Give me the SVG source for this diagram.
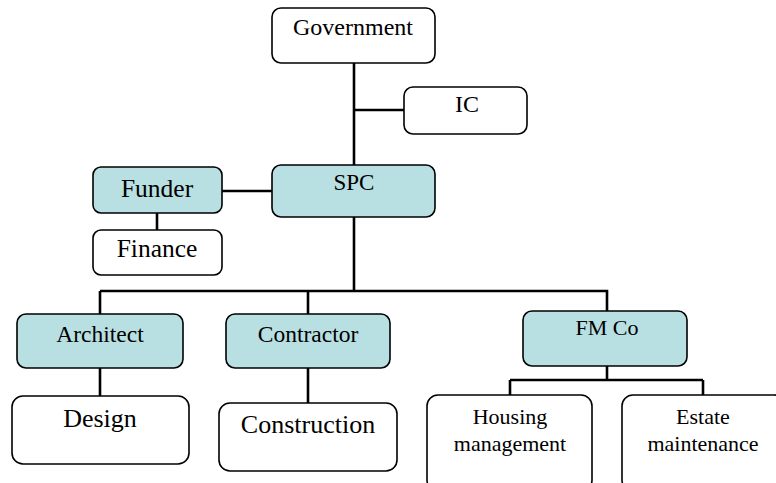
<svg xmlns="http://www.w3.org/2000/svg" width="776" height="483" viewBox="0 0 776 483">
<style>
.box{fill:#ffffff;stroke:#000;stroke-width:1.6}
.tint{fill:#b8dfe2}
.t{font-family:"Liberation Serif","Times New Roman",serif;fill:#000;text-anchor:middle}
.conn{stroke:#000;stroke-width:2.6;fill:none}
</style>
<rect width="776" height="483" fill="#ffffff"/>
<g id="connectors" class="conn">
<path d="M354,63 V165"/>
<path d="M354,110 H404"/>
<path d="M222,191 H272"/>
<path d="M157,213 V230"/>
<path d="M354,217 V291"/>
<path d="M100,291 H607 V311"/>
<path d="M100,291 V314"/>
<path d="M308,291 V314"/>
<path d="M100,368 V396"/>
<path d="M308,368 V403"/>
<path d="M607,366 V380"/>
<path d="M510,380 H703"/>
<path d="M510,380 V395"/>
<path d="M703,380 V395"/>
</g>
<g id="government">
<rect class="box" x="272" y="8" width="163" height="55" rx="9"/>
<text class="t" x="353" y="35" font-size="24">Government</text>
</g>
<g id="ic">
<rect class="box" x="404" y="87" width="123" height="47" rx="9"/>
<text class="t" x="467" y="112" font-size="24">IC</text>
</g>
<g id="spc">
<rect class="box tint" x="272" y="165" width="163" height="52" rx="9"/>
<text class="t" x="354" y="190" font-size="23">SPC</text>
</g>
<g id="funder">
<rect class="box tint" x="93" y="167" width="129" height="46" rx="8"/>
<text class="t" x="157" y="197" font-size="25.5">Funder</text>
</g>
<g id="finance">
<rect class="box" x="93" y="230" width="129" height="45" rx="8"/>
<text class="t" x="157" y="257" font-size="25.5">Finance</text>
</g>
<g id="architect">
<rect class="box tint" x="17" y="314" width="166" height="54" rx="9"/>
<text class="t" x="100" y="342" font-size="23.5">Architect</text>
</g>
<g id="contractor">
<rect class="box tint" x="226" y="314" width="164" height="54" rx="9"/>
<text class="t" x="308" y="342" font-size="23.5">Contractor</text>
</g>
<g id="fmco">
<rect class="box tint" x="523" y="311" width="164" height="55" rx="9"/>
<text class="t" x="607" y="335" font-size="22">FM Co</text>
</g>
<g id="design">
<rect class="box" x="12" y="396" width="177" height="68" rx="11"/>
<text class="t" x="100" y="427" font-size="26">Design</text>
</g>
<g id="construction">
<rect class="box" x="219" y="403" width="178" height="68" rx="11"/>
<text class="t" x="308" y="433" font-size="26">Construction</text>
</g>
<g id="housing">
<rect class="box" x="427" y="395" width="165" height="96" rx="11"/>
<text class="t" x="510" y="424" font-size="22">Housing</text>
<text class="t" x="510" y="451" font-size="22">management</text>
</g>
<g id="estate">
<rect class="box" x="622" y="395" width="163" height="96" rx="11"/>
<text class="t" x="703" y="424" font-size="22">Estate</text>
<text class="t" x="703" y="451" font-size="22">maintenance</text>
</g>
</svg>
